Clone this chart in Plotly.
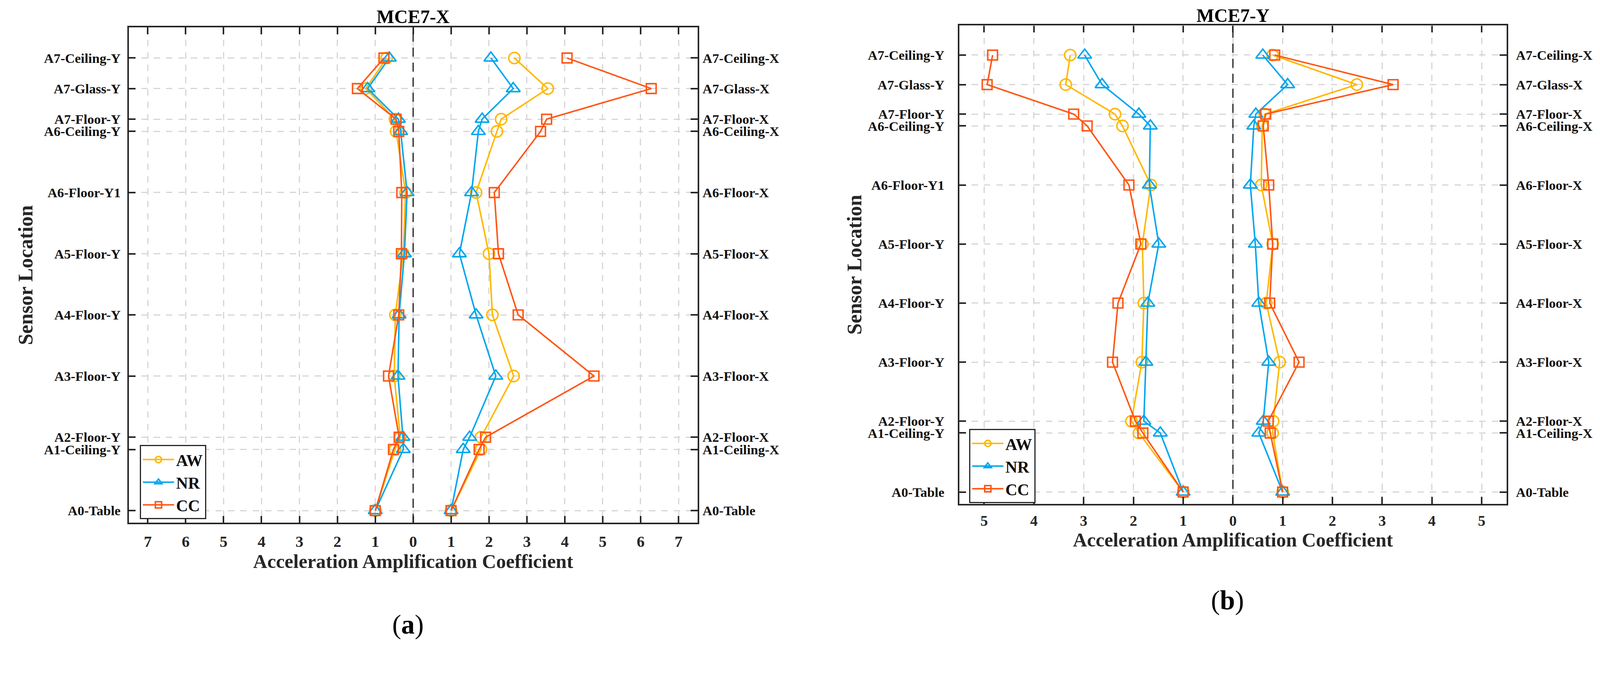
import plotly.graph_objects as go

# ---------------- data ----------------
sensor_pos = [0.0, 1.0, 1.2, 2.2, 3.2, 4.2, 5.2, 6.2, 6.4, 6.9, 7.4]
labels_y = ["A0-Table", "A1-Ceiling-Y", "A2-Floor-Y", "A3-Floor-Y", "A4-Floor-Y",
            "A5-Floor-Y", "A6-Floor-Y1", "A6-Ceiling-Y", "A7-Floor-Y", "A7-Glass-Y",
            "A7-Ceiling-Y"]
labels_x = ["A0-Table", "A1-Ceiling-X", "A2-Floor-X", "A3-Floor-X", "A4-Floor-X",
            "A5-Floor-X", "A6-Floor-X", "A6-Ceiling-X", "A7-Floor-X", "A7-Glass-X",
            "A7-Ceiling-X"]
series = ["AW", "NR", "CC"]

# (a) MCE7-X
a_AW_Y = [1.00, 0.48, 0.34, 0.50, 0.47, 0.26, 0.20, 0.45, 0.48, 1.25, 0.70]
a_NR_Y = [1.00, 0.26, 0.27, 0.40, 0.37, 0.23, 0.16, 0.33, 0.39, 1.20, 0.63]
a_CC_Y = [1.00, 0.52, 0.37, 0.65, 0.38, 0.31, 0.30, 0.38, 0.45, 1.47, 0.77]
a_AW_X = [1.00, 1.79, 1.79, 2.65, 2.09, 2.00, 1.66, 2.21, 2.32, 3.55, 2.67]
a_NR_X = [1.00, 1.32, 1.49, 2.18, 1.66, 1.22, 1.54, 1.72, 1.82, 2.64, 2.05]
a_CC_X = [1.00, 1.74, 1.91, 4.77, 2.77, 2.25, 2.14, 3.36, 3.52, 6.28, 4.06]

# (b) MCE7-Y
b_AW_Y = [1.00, 1.89, 2.04, 1.83, 1.79, 1.82, 1.65, 2.22, 2.37, 3.36, 3.27]
b_NR_Y = [1.00, 1.46, 1.79, 1.75, 1.71, 1.49, 1.68, 1.66, 1.89, 2.63, 2.98]
b_CC_Y = [1.00, 1.81, 1.96, 2.42, 2.31, 1.85, 2.09, 2.93, 3.20, 4.94, 4.83]
b_AW_X = [1.00, 0.80, 0.81, 0.94, 0.67, 0.80, 0.57, 0.59, 0.64, 2.49, 0.80]
b_NR_X = [1.00, 0.52, 0.61, 0.72, 0.52, 0.45, 0.35, 0.42, 0.46, 1.10, 0.60]
b_CC_X = [1.00, 0.75, 0.71, 1.33, 0.74, 0.80, 0.72, 0.61, 0.66, 3.22, 0.84]

a_ticks = list(range(-7, 8))
b_ticks = list(range(-5, 6))
y_range = [-0.2, 7.9]

# ---------------- page geometry ----------------
# The page is photographed slightly magnified (about 4 %) with the default
# 8 px body margin, so sizes are given in picture pixels and converted here.
Z = 1.04
MARGIN = 8
W = int(4270 / Z) - 2 * MARGIN
H = int(1728 / Z) - 2 * MARGIN

def s(v):            # picture px -> css px
    return v / Z

def si(v):           # picture px -> integer css px
    return int(round(v / Z))

def px_x(R):         # picture x -> paper fraction
    return (R / Z - MARGIN) / W

def px_y(R):         # picture y (from top) -> paper fraction
    return 1 - (R / Z - MARGIN) / H

# ---------------- style ----------------
FONT = "Liberation Serif"
AX = "#262626"
colors = {"AW": "#FFB800", "NR": "#00A6EE", "CC": "#FF5614"}
symbols = {"AW": "circle-open", "NR": "triangle-up-open", "CC": "square-open"}
msize = {"AW": 30, "NR": 32, "CC": 26}

fig = go.Figure()

panels = [
    dict(xa="x", ya_l="y", ya_r="y2", leg="legend",
         Y={"AW": a_AW_Y, "NR": a_NR_Y, "CC": a_CC_Y},
         X={"AW": a_AW_X, "NR": a_NR_X, "CC": a_CC_X}),
    dict(xa="x2", ya_l="y3", ya_r="y4", leg="legend2",
         Y={"AW": b_AW_Y, "NR": b_NR_Y, "CC": b_CC_Y},
         X={"AW": b_AW_X, "NR": b_NR_X, "CC": b_CC_X}),
]

for p in panels:
    for sname in series:
        common = dict(mode="lines+markers",
                      line=dict(color=colors[sname], width=s(4)),
                      marker=dict(symbol=symbols[sname], size=s(msize[sname]),
                                  color=colors[sname],
                                  line=dict(width=s(4), color=colors[sname])),
                      name=sname)
        fig.add_trace(go.Scatter(x=[-v for v in p["Y"][sname]], y=sensor_pos,
                                 xaxis=p["xa"], yaxis=p["ya_l"], legend=p["leg"],
                                 showlegend=True, **common))
        fig.add_trace(go.Scatter(x=p["X"][sname], y=sensor_pos,
                                 xaxis=p["xa"], yaxis=p["ya_r"], legend=p["leg"],
                                 showlegend=False, **common))

grid = dict(showgrid=True, gridcolor="#d6d6d6", gridwidth=s(3.3),
            griddash=f"{s(17):.1f}px,{s(16):.1f}px")
axline = dict(showline=True, linecolor=AX, linewidth=s(4.5), zeroline=False,
              automargin=False, ticks="inside", ticklen=s(18), tickwidth=s(4),
              tickcolor=AX)

def xaxis_def(domain, anchor, ticks, rng, tfs, standoff, lbl_off):
    return dict(domain=domain, anchor=anchor, range=rng, tickvals=ticks,
                ticktext=[str(abs(t)) for t in ticks], mirror="ticks",
                tickfont=dict(family=FONT, size=s(tfs), color=AX, weight="bold"),
                ticklabelstandoff=si(lbl_off),
                title=dict(text="Acceleration Amplification Coefficient",
                           font=dict(family=FONT, size=s(52), color=AX, weight="bold"),
                           standoff=s(standoff)),
                **grid, **axline)

def yaxis_left(domain, anchor, standoff, lbl_off):
    return dict(domain=domain, anchor=anchor, range=y_range, tickvals=sensor_pos,
                ticktext=labels_y, mirror=True, ticklabelstandoff=si(lbl_off),
                tickfont=dict(family=FONT, size=s(36), color="#111111", weight="bold"),
                title=dict(text="Sensor Location",
                           font=dict(family=FONT, size=s(54), color=AX, weight="bold"),
                           standoff=s(standoff)),
                **grid, **axline)

def yaxis_right(overlay, anchor, lbl_off):
    d = dict(overlaying=overlay, anchor=anchor, side="right", range=y_range,
             tickvals=sensor_pos, ticktext=labels_x, showgrid=False,
             ticklabelstandoff=si(lbl_off),
             tickfont=dict(family=FONT, size=s(36), color="#111111", weight="bold"))
    d.update(axline)
    d["showline"] = False
    return d

legend_style = dict(xanchor="left", yanchor="top", bgcolor="white", bordercolor=AX,
                    borderwidth=si(3.3), itemwidth=80, tracegroupgap=0,
                    font=dict(family=FONT, size=s(44), color="#111111", weight="bold"))

fig.update_layout(
    width=W, height=H,
    margin=dict(l=0, r=0, t=0, b=0),
    paper_bgcolor="white", plot_bgcolor="white",
    font=dict(family=FONT, color=AX),
    xaxis=xaxis_def([px_x(343), px_x(1857)], "y", a_ticks, [-7.5, 7.5], 42, 0, 9),
    yaxis=yaxis_left([px_y(1392), px_y(73)], "x", 14, 10),
    yaxis2=yaxis_right("y", "x", 12),
    xaxis2=xaxis_def([px_x(2554), px_x(4011)], "y3", b_ticks, [-5.5, 5.5], 40, 0, 6),
    yaxis3=yaxis_left([px_y(1341.5), px_y(68)], "x2", 0, 28),
    yaxis4=yaxis_right("y3", "x2", 24),
    legend=dict(x=px_x(372), y=px_y(1185), **legend_style),
    legend2=dict(x=px_x(2580), y=px_y(1142), **legend_style),
)

# dashed zero lines (drawn between grid and traces)
for xa, ya in [("x", "y"), ("x2", "y3")]:
    fig.add_shape(type="line", xref=xa, yref=ya, x0=0, x1=0, y0=y_range[0], y1=y_range[1],
                  line=dict(color="#3c3c3c", width=s(3.8), dash=f"{s(24):.1f}px,{s(16):.1f}px"),
                  layer="between")

# panel titles and captions
fig.add_annotation(text="MCE7-X", xref="x domain", yref="paper", x=0.5, y=px_y(44),
                   xanchor="center", yanchor="middle", showarrow=False,
                   font=dict(family=FONT, size=s(50), color="black", weight="bold"))
fig.add_annotation(text="MCE7-Y", xref="x2 domain", yref="paper", x=0.5, y=px_y(41),
                   xanchor="center", yanchor="middle", showarrow=False,
                   font=dict(family=FONT, size=s(50), color="black", weight="bold"))
fig.add_annotation(text="(<b>a</b>)", xref="paper", yref="paper", x=px_x(1086), y=px_y(1662),
                   xanchor="center", yanchor="middle", showarrow=False,
                   font=dict(family=FONT, size=s(72), color="black"))
fig.add_annotation(text="(<b>b</b>)", xref="paper", yref="paper", x=px_x(3268), y=px_y(1598),
                   xanchor="center", yanchor="middle", showarrow=False,
                   font=dict(family=FONT, size=s(72), color="black"))

fig.write_html("out.html")
